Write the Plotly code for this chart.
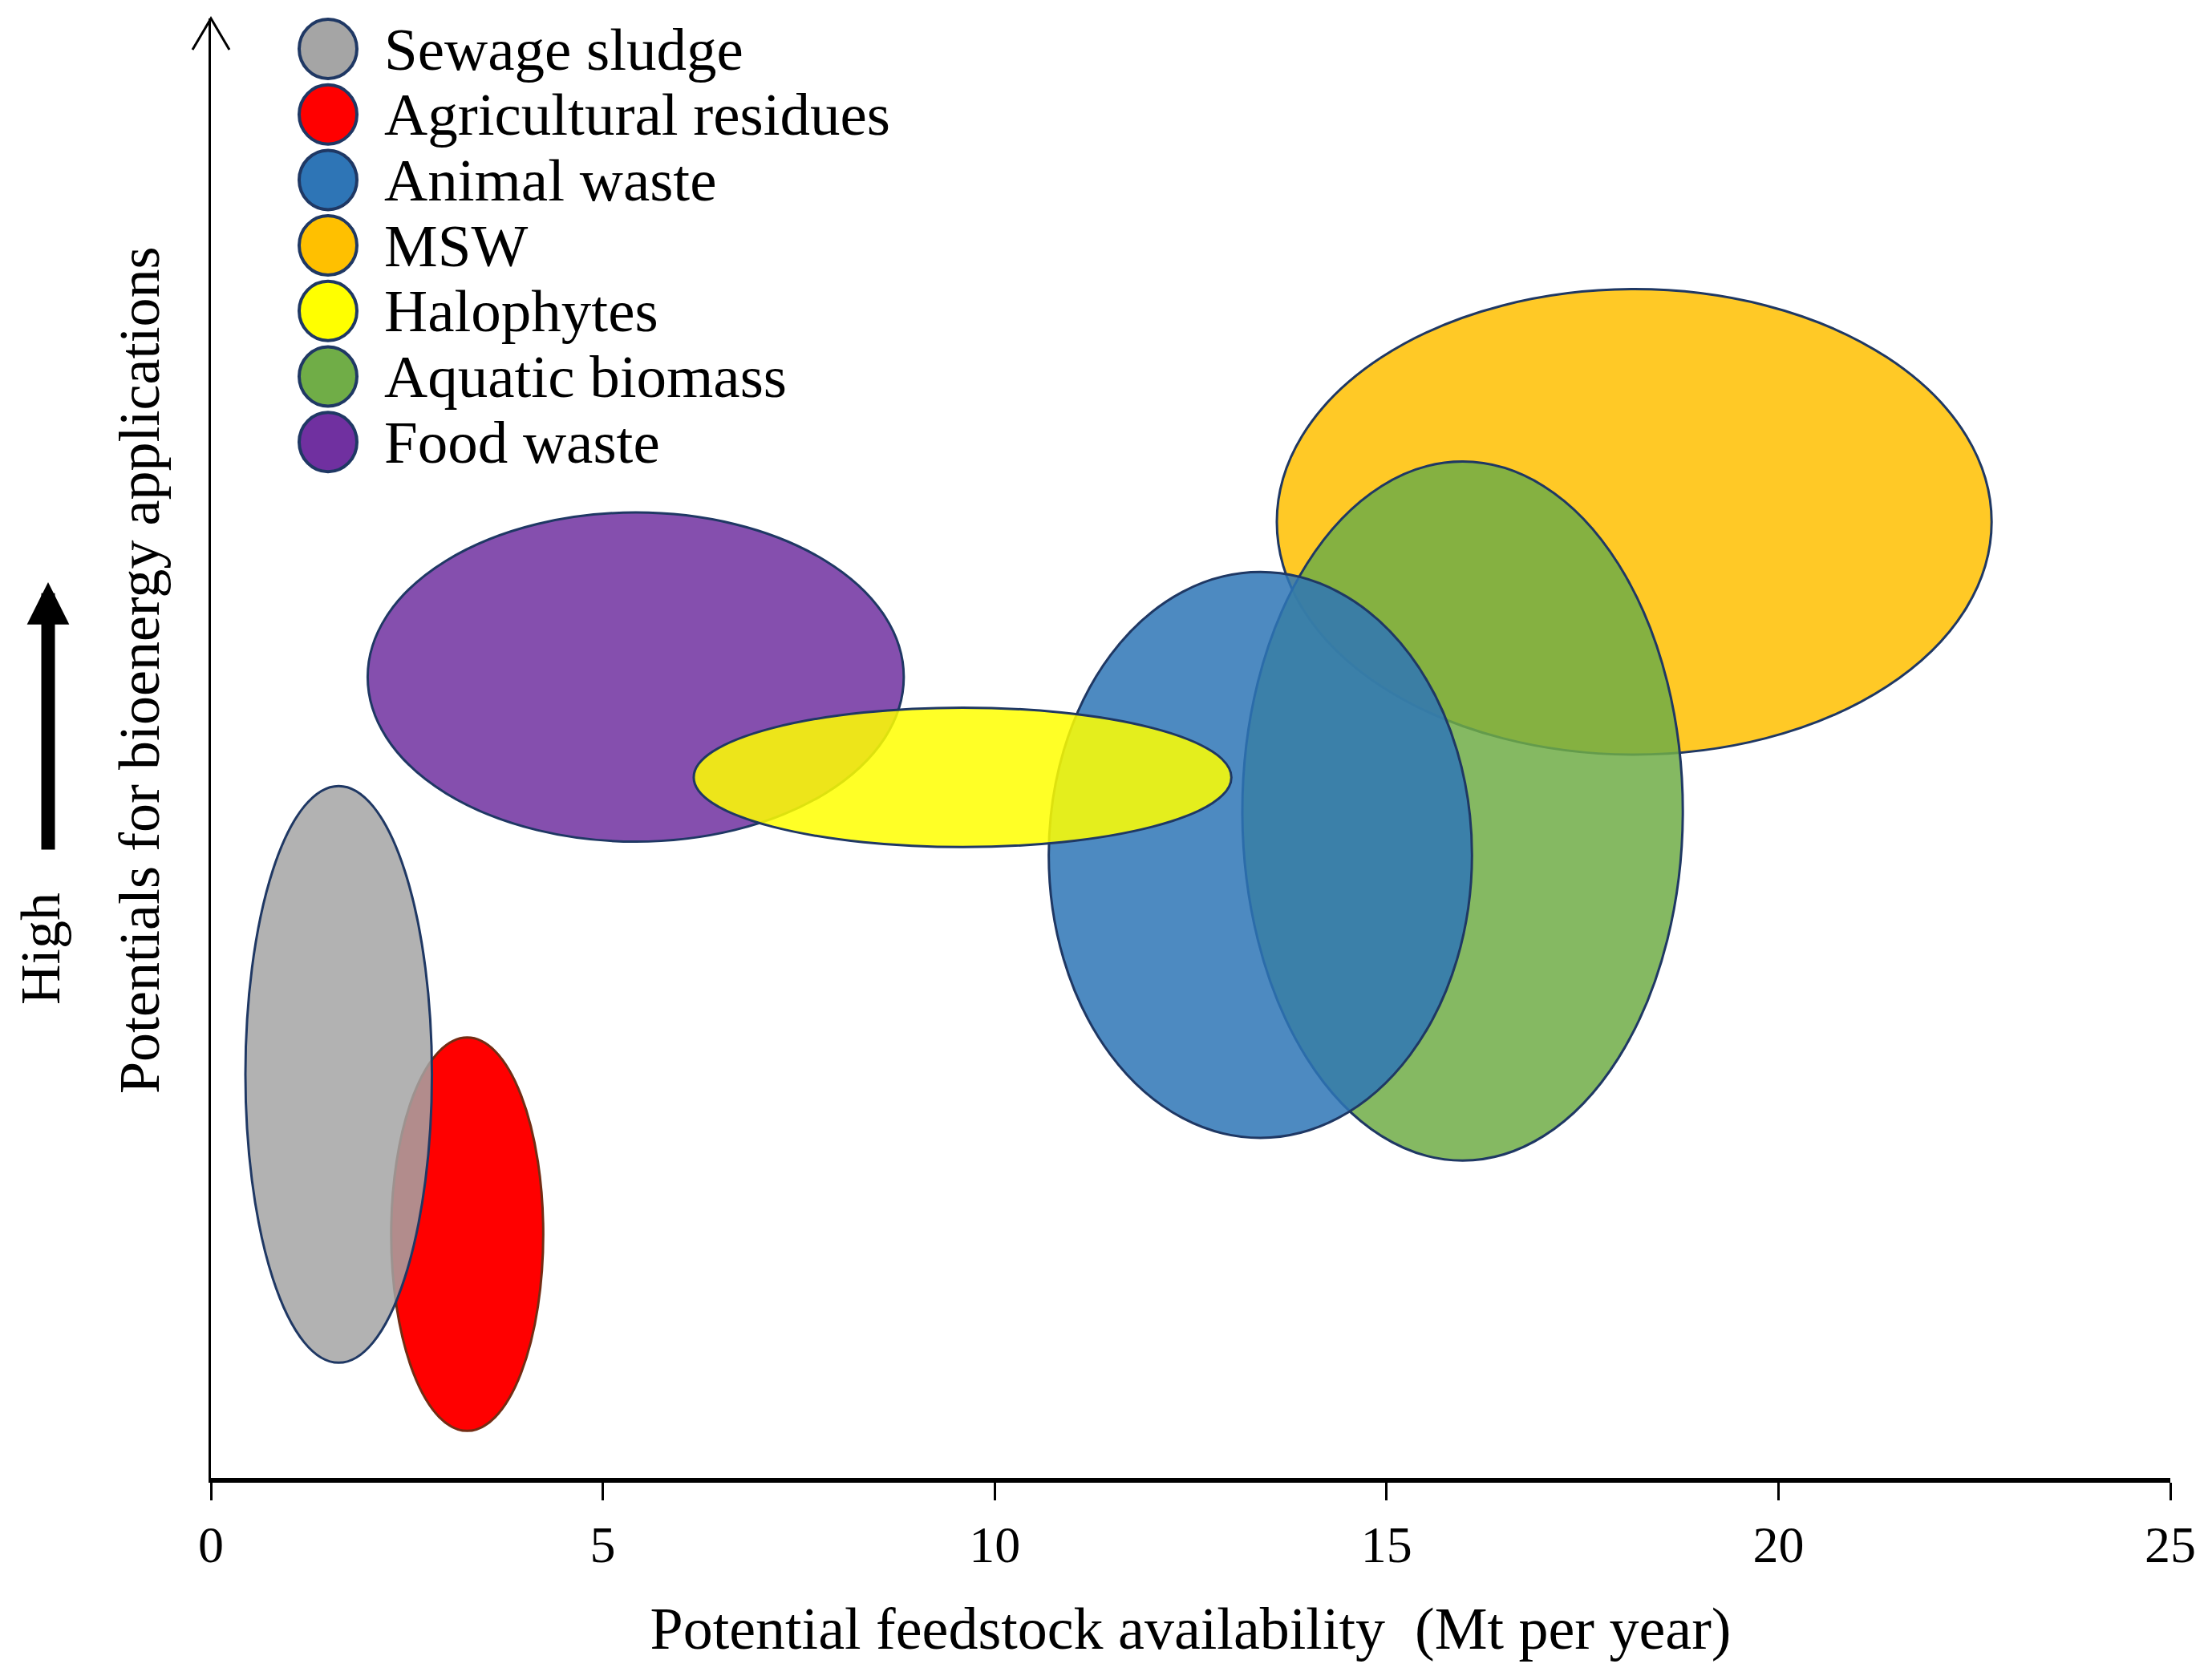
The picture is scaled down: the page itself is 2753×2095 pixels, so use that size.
import plotly.graph_objects as go

# feedstock groups, in legend order
feedstocks = ["Sewage sludge", "Agricultural residues", "Animal waste", "MSW",
              "Halophytes", "Aquatic biomass", "Food waste"]

# centre of each ellipse on the availability axis (Mt per year) and its half-width
availability = [1.63, 3.27, 13.39, 18.16, 9.59, 15.97, 5.42]
availability_spread = [1.19, 0.97, 2.70, 4.56, 3.43, 2.81, 3.42]

# relative potential for bioenergy (unscaled axis) and half-height
potential = [5.15, 3.11, 7.95, 12.20, 8.94, 8.51, 10.22]
potential_spread = [3.68, 2.51, 3.61, 2.97, 0.89, 4.46, 2.10]

x_ticks = [0, 5, 10, 15, 20, 25]

color_map = {"Sewage sludge": (165, 165, 165), "Agricultural residues": (255, 0, 0),
             "Animal waste": (46, 117, 182), "MSW": (255, 192, 0), "Halophytes": (255, 255, 0),
             "Aquatic biomass": (112, 173, 71), "Food waste": (112, 48, 160)}
alpha_map = {"Agricultural residues": 1.0}
edge_map = {"Agricultural residues": "rgb(115,45,20)"}
EDGE = "rgb(31,56,100)"
FONT = "Liberation Serif"

# stacking of the ellipses, bottom first
draw_order = ["Agricultural residues", "Sewage sludge", "MSW", "Aquatic biomass",
              "Animal waste", "Food waste", "Halophytes"]


def rgba(rgb, a):
    return "rgba(%d,%d,%d,%.2f)" % (rgb[0], rgb[1], rgb[2], a)


# the page body has an 8px margin, so the figure is a bit smaller than the window
W, H = 2737, 2079
margin = dict(l=255, r=39, t=15, b=244)
plot_w = W - margin["l"] - margin["r"]
plot_h = H - margin["t"] - margin["b"]
y_top = plot_h / (plot_w / 25.0)
x_left = margin["l"]          # pixel of x = 0 inside the figure
y_base = H - margin["b"]      # pixel of the x axis inside the figure


def px_x(p):
    return (p - 8 - x_left) / plot_w


def px_y(p):
    return (y_base - (p - 8)) / plot_h


fig = go.Figure()

for name in draw_order:
    i = feedstocks.index(name)
    fig.add_shape(type="circle", xref="x", yref="y", layer="above",
                  x0=availability[i] - availability_spread[i], x1=availability[i] + availability_spread[i],
                  y0=potential[i] - potential_spread[i], y1=potential[i] + potential_spread[i],
                  fillcolor=rgba(color_map[name], alpha_map.get(name, 0.85)),
                  line=dict(color=edge_map.get(name, EDGE), width=3))

# hand-made legend
legend_x, legend_text_x = px_x(409), px_x(477)
legend_top, legend_step = px_y(61), 81.7 / plot_h
for i, name in enumerate(feedstocks):
    yc = legend_top - i * legend_step
    fig.add_shape(type="circle", xref="paper", yref="paper", xsizemode="pixel", ysizemode="pixel",
                  xanchor=legend_x, yanchor=yc, x0=-36, x1=36, y0=-37, y1=37,
                  fillcolor=rgba(color_map[name], 1), line=dict(color=EDGE, width=4))
    fig.add_annotation(xref="paper", yref="paper", x=legend_text_x, y=yc, text=name, showarrow=False,
                       xanchor="left", yanchor="middle", font=dict(family=FONT, size=75, color="black"))

# open arrow head on top of the y axis
dx, dy = 23 / plot_w, 39 / plot_h
fig.add_shape(type="path", xref="paper", yref="paper",
              path="M %f,%f L 0,1 L %f,%f" % (-dx, 1 - dy, dx, 1 - dy),
              line=dict(color="black", width=3))

# y title, "High" and the thick arrow
fig.add_annotation(xref="paper", yref="paper", x=px_x(174), y=px_y(1366),
                   text="Potentials for bioenergy applications", textangle=-90, showarrow=False,
                   xanchor="center", yanchor="bottom", font=dict(family=FONT, size=72, color="black"))
fig.add_annotation(xref="paper", yref="paper", x=px_x(50), y=px_y(1255),
                   text="High", textangle=-90, showarrow=False,
                   xanchor="center", yanchor="bottom", font=dict(family=FONT, size=70, color="black"))
fig.add_annotation(xref="paper", yref="paper", x=px_x(60), y=px_y(726),
                   ax=0, ay=335, axref="pixel", ayref="pixel", text="", showarrow=True,
                   arrowhead=2, arrowsize=0.62, arrowwidth=17, arrowcolor="black", standoff=0)

fig.update_xaxes(range=[0, 25], tickvals=x_ticks, ticktext=[str(t) for t in x_ticks],
                 showline=True, linewidth=6, linecolor="black", ticks="outside", ticklen=22,
                 tickwidth=2.5, tickcolor="black", showgrid=False, zeroline=False, automargin=False,
                 tickfont=dict(family=FONT, size=64, color="black"),
                 title=dict(text="Potential feedstock availability\u00a0 (Mt per year)", standoff=45,
                            font=dict(family=FONT, size=74, color="black")))
fig.update_yaxes(range=[0, y_top], showline=True, linewidth=3, linecolor="black", ticks="",
                 showticklabels=False, showgrid=False, zeroline=False, automargin=False)

fig.update_layout(width=W, height=H, margin=margin, showlegend=False,
                  paper_bgcolor="white", plot_bgcolor="white")

fig.write_html("out.html")
